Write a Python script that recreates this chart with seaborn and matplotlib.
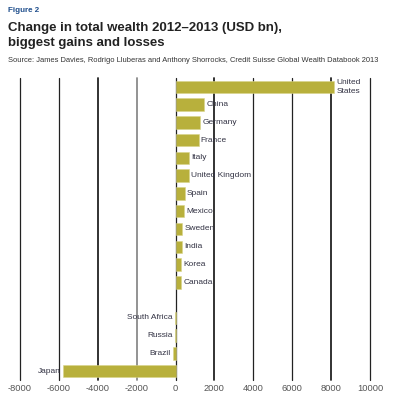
import numpy as np
import pandas as pd
import seaborn as sns
import matplotlib.pyplot as plt

# data (USD bn)
countries = ["United\nStates", "China", "Germany", "France", "Italy", "United Kingdom",
             "Spain", "Mexico", "Sweden", "India", "Korea", "Canada",
             "South Africa", "Russia", "Brazil", "Japan"]
change = [8170, 1460, 1250, 1180, 690, 690, 460, 450, 340, 340, 290, 290,
          -30, -40, -110, -5800]
# row slot of each country (one empty row between gains and losses)
slots = [0, 1, 2, 3, 4, 5, 6, 7, 8, 9, 10, 11, 13, 14, 15, 16]
xticks = [-8000, -6000, -4000, -2000, 0, 2000, 4000, 6000, 8000, 10000]

bar_color = "#B8B03C"

sns.set_style("white")
plt.rcParams["font.family"] = ["Liberation Sans", "DejaVu Sans"]

df = pd.DataFrame({"country": countries, "change": change, "slot": slots})

fig = plt.figure(figsize=(3.93, 4.07), dpi=100)
ax = fig.add_axes([20 / 393, 1 - 380 / 407, 350 / 393, (380 - 78) / 407])

sns.barplot(data=df, x="change", y="slot", orient="h", native_scale=True,
            color=bar_color, saturation=1, width=0.7, edgecolor="#d8d48a",
            linewidth=0.4, ax=ax, zorder=3)

ax.set_xlim(-8000, 10000)
ax.set_ylim(16.5, -0.5)
ax.set_xticks(xticks)
ax.set_xticklabels([str(t) for t in xticks], fontsize=6.7, color="#555555")
ax.set_yticks([])
ax.set_xlabel("")
ax.set_ylabel("")
ax.tick_params(axis="x", length=0, pad=3)
for s in ax.spines.values():
    s.set_visible(False)

for t in xticks:
    col = "#8a8a8a" if t == -2000 else "#222222"
    lw = 1.3 if t in (-4000, -2000, 2000, 8000) else 0.9
    ax.axvline(t, color=col, lw=lw, zorder=1, clip_on=False)

for name, val, pos in zip(countries, change, slots):
    if val >= 0:
        ax.text(val + 120, pos, name, ha="left", va="center", fontsize=6.0,
                color="#333344", zorder=4, linespacing=1.5)
    else:
        ax.text(val - 120, pos, name, ha="right", va="center", fontsize=6.0,
                color="#333344", zorder=4)

fig.text(8 / 393, 1 - 10 / 407, "Figure 2", fontsize=5.8, fontweight="bold",
         color="#1f4e8c", va="center")
fig.text(8 / 393, 1 - 35.5 / 407, "Change in total wealth 2012\u20132013 (USD bn),\nbiggest gains and losses",
         fontsize=9.5, fontweight="bold", color="#222222", va="center", linespacing=1.3)
fig.text(8 / 393, 1 - 60 / 407,
         "Source: James Davies, Rodrigo Lluberas and Anthony Shorrocks, Credit Suisse Global Wealth Databook 2013",
         fontsize=5.4, color="#333333", va="center")

fig.savefig("out.png", dpi=100)
